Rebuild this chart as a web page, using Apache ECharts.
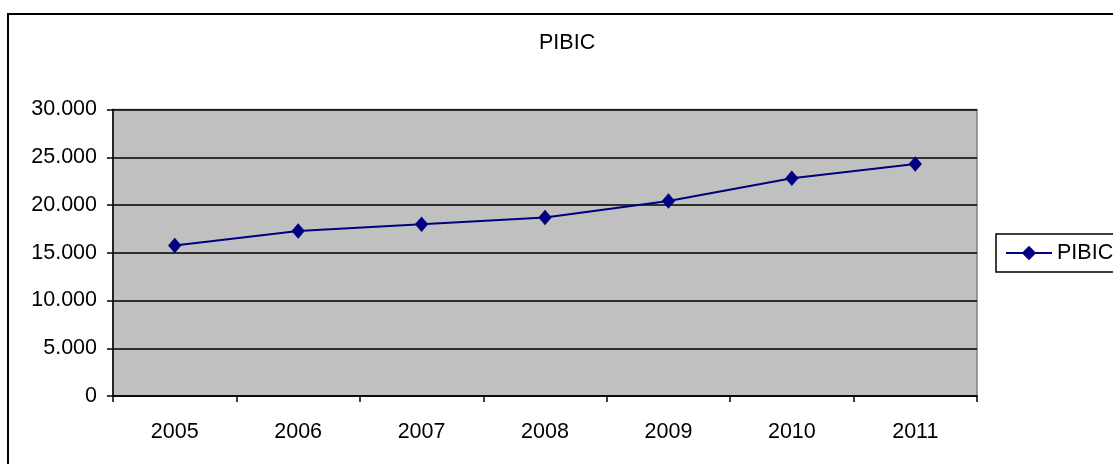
<!DOCTYPE html>
<html>
<head>
<meta charset="utf-8">
<script src="https://cdn.jsdelivr.net/npm/echarts@6/dist/echarts.min.js"></script>
<style>
html,body{margin:0;padding:0;background:#fff;}
#c{width:1113px;height:464px;}
</style>
</head>
<body>
<div id="c"></div>
<script>
const categories = ['2005','2006','2007','2008','2009','2010','2011'];
const pibicValues = [15770, 17280, 17980, 18700, 20420, 22800, 24290];
const seriesName = 'PIBIC';
const chartTitle = 'PIBIC';

function fmt(v){ return String(v).replace(/\B(?=(\d{3})+(?!\d))/g, '.'); }

const FONT = "'Liberation Sans', Arial, sans-serif";
const chart = echarts.init(document.getElementById('c'));
chart.setOption({
  animation: false,
  backgroundColor: '#ffffff',
  textStyle: { fontFamily: FONT, color: '#000' },
  title: {
    text: chartTitle,
    left: 539, top: 32, padding: 0,
    textStyle: { fontFamily: FONT, fontSize: 21.5, fontWeight: 'normal', color: '#000' }
  },
  legend: {
    data: [seriesName],
    left: 996, top: 234,
    orient: 'vertical',
    borderColor: '#000', borderWidth: 1.5,
    padding: [8, 30, 8, 9],
    itemWidth: 46, itemHeight: 18,
    textStyle: { fontFamily: FONT, fontSize: 21.5, color: '#000' }
  },
  graphic: [{
    type: 'rect',
    shape: { x: 8, y: 14, width: 1120, height: 470 },
    style: { fill: 'none', stroke: '#000', lineWidth: 2 },
    silent: true, z: 100
  }],
  grid: {
    left: 113, right: 136, top: 109.5, bottom: 68,
    show: true, backgroundColor: '#C0C0C0', borderColor: '#808080', borderWidth: 1.5
  },
  xAxis: {
    type: 'category',
    data: categories,
    boundaryGap: true,
    axisLine: { show: true, lineStyle: { color: '#000', width: 1.5 } },
    axisTick: { show: true, length: 6, lineStyle: { color: '#000', width: 1.5 } },
    axisLabel: { fontFamily: FONT, fontSize: 21.5, color: '#000', margin: 25 },
    splitLine: { show: false }
  },
  yAxis: {
    type: 'value',
    min: 0, max: 30000, interval: 5000,
    axisLine: { show: true, lineStyle: { color: '#000', width: 1.5 } },
    axisTick: { show: true, length: 6, lineStyle: { color: '#000', width: 1.5 } },
    axisLabel: { fontFamily: FONT, fontSize: 21.5, color: '#000', margin: 16, formatter: fmt },
    splitLine: { show: true, lineStyle: { color: '#000', width: 1.5 } }
  },
  series: [{
    name: seriesName,
    type: 'line',
    data: pibicValues,
    symbol: 'diamond',
    symbolSize: [12, 14],
    lineStyle: { color: '#000080', width: 2 },
    itemStyle: { color: '#000080', borderColor: '#000080' }
  }]
});
</script>
</body>
</html>
